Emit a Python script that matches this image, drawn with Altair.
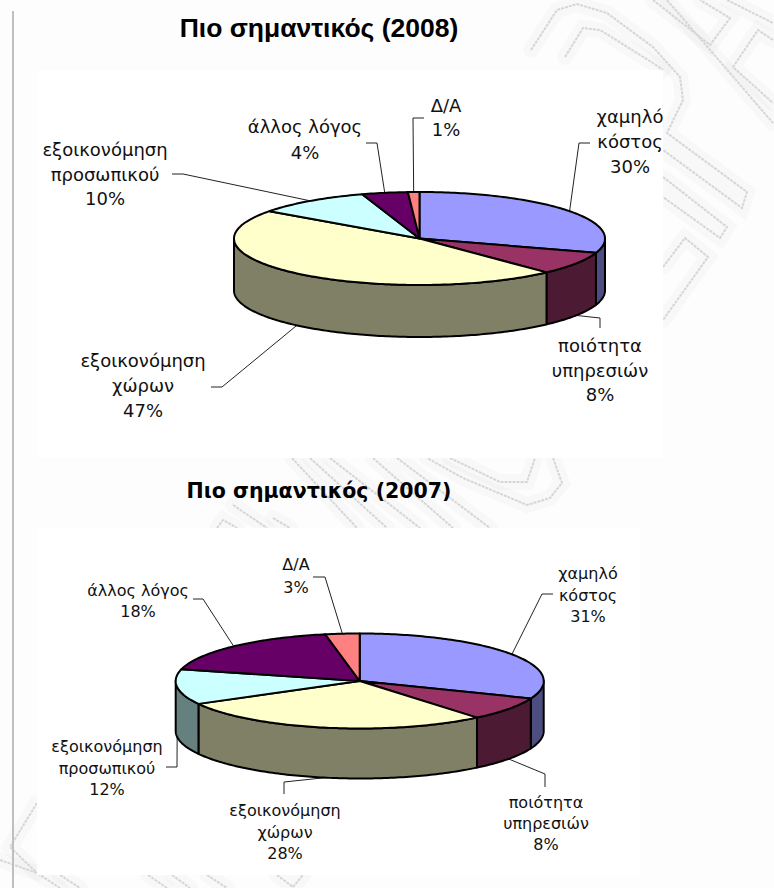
import math
import altair as alt
import pandas as pd

# Survey shares, clockwise from twelve o'clock
VALUES_2008 = [30, 8, 47, 10, 4, 1]
VALUES_2007 = [31, 8, 28, 12, 18, 3]
LABELS = [
    ["χαμηλό", "κόστος"],
    ["ποιότητα", "υπηρεσιών"],
    ["εξοικονόμηση", "χώρων"],
    ["εξοικονόμηση", "προσωπικού"],
    ["άλλος λόγος"],
    ["Δ/Α"],
]
TOP_COLORS = ["#9999FF", "#993366", "#FFFFCC", "#CCFFFF", "#660066", "#FF8080"]
WALL_COLORS = ["#4D4D80", "#4D1A33", "#808066", "#668080", "#330033", "#804040"]

# Disc geometry: centre, radii, wall depth
DISC_2008 = dict(cx=419.5, cy=238.5, rx=185.5, ry=46.5, depth=52)
DISC_2007 = dict(cx=359.7, cy=681.0, rx=184.0, ry=47.5, depth=50)

# Label placement per slice: centre x, y of each line, elbow and end of the leader
LAYOUT_2008 = [
    dict(x=630, ys=[118, 143, 168], elbow=(579, 143), end=(590, 143)),
    dict(x=600, ys=[347, 372, 396], elbow=(600, 318), end=(600, 328)),
    dict(x=143, ys=[362, 387, 412], elbow=(222, 387), end=(211, 387)),
    dict(x=105, ys=[151, 176, 200], elbow=(183, 174), end=(172, 174)),
    dict(x=305, ys=[128, 154], elbow=(377, 143), end=(366, 143)),
    dict(x=446, ys=[107, 131], elbow=(413, 118), end=(424, 118)),
]
LAYOUT_2007 = [
    dict(x=588, ys=[574, 596, 617], elbow=(542, 594), end=(553, 594)),
    dict(x=546, ys=[803, 824, 845], elbow=(545, 774), end=(545, 787)),
    dict(x=285, ys=[811, 833, 854], elbow=(284, 782), end=(284, 794)),
    dict(x=107, ys=[747, 769, 790], elbow=(177, 767), end=(166, 767)),
    dict(x=138, ys=[591, 612], elbow=(203, 599), end=(193, 599)),
    dict(x=296, ys=[565, 588], elbow=(325, 577), end=(313, 577)),
]

TITLE_2008 = dict(text="Πιο σημαντικός (2008)", x=319, y=29, font="Liberation Sans", size=26.5)
TITLE_2007 = dict(text="Πιο σημαντικός (2007)", x=319, y=492, font="DejaVu Sans", size=20.5)

# White panels behind the two pies
PANELS = [(37, 663, 70, 458), (37, 640, 528, 875)]

# Faint key-pattern ornament of the page background
ORNAMENT = [
    [(531, 50), (557, 10), (577, 4), (607, 13), (653, 47), (680, 77), (683, 100), (667, 133),
     (747, 192), (742, 208), (663, 150)],
    [(565, 57), (583, 28), (600, 30), (653, 63), (663, 70)],
    [(653, 0), (710, 45), (730, 18), (700, 0)],
    [(667, 0), (773, 123)],
    [(773, 40), (758, 30), (733, 67), (773, 103)],
    [(727, 0), (773, 23)],
    [(663, 177), (727, 227), (720, 238), (663, 197)],
    [(663, 267), (685, 238), (708, 257), (663, 320)],
    [(292, 458), (357, 528)],
    [(310, 458), (387, 528)],
    [(330, 458), (420, 528)],
    [(373, 458), (453, 528)],
    [(397, 458), (490, 528)],
    [(450, 458), (500, 482), (527, 482), (535, 458)],
    [(553, 458), (562, 483), (550, 498), (527, 505), (463, 478), (427, 458)],
    [(217, 528), (223, 520), (237, 528)],
    [(233, 505), (267, 528)],
    [(273, 518), (290, 528)],
    [(37, 803), (10, 847), (37, 873)],
    [(0, 860), (37, 873), (60, 888)],
    [(60, 875), (80, 888)],
    [(148, 875), (167, 888)],
    [(172, 875), (190, 888)],
    [(207, 875), (227, 888)],
    [(277, 875), (293, 887), (303, 875)],
]

X = alt.X("x:Q", scale=alt.Scale(domain=[0, 774], range=[0, 774]), axis=None)
Y = alt.Y("y:Q", scale=alt.Scale(domain=[0, 888], range=[0, 888]), axis=None)


def on_rim(disc, degrees, drop=0.0):
    a = math.radians(degrees)
    return (disc["cx"] + disc["rx"] * math.sin(a),
            disc["cy"] - disc["ry"] * math.cos(a) + drop)


def arc_angles(start, stop):
    n = max(2, int(abs(stop - start)) + 2)
    return [start + (stop - start) * i / (n - 1) for i in range(n)]


def pie_rows(values, disc, key):
    tops, walls, leaders, texts = [], [], [], []
    layout = LAYOUT_2008 if key == "a" else LAYOUT_2007
    run = 0.0
    for i, v in enumerate(values):
        start, stop = run * 3.6, (run + v) * 3.6
        mid = (start + stop) / 2
        run += v

        # top face: centre, then along the rim
        pts = [(disc["cx"], disc["cy"])] + [on_rim(disc, a) for a in arc_angles(start, stop)]
        for k, (px, py) in enumerate(pts):
            tops.append(dict(x=px, y=py, ord=k, id=f"{key}t{i}", color=TOP_COLORS[i]))

        # outer wall: only the part of the rim that faces the viewer
        lo, hi = max(start, 90.0), min(stop, 270.0)
        if hi > lo:
            angles = arc_angles(lo, hi)
            pts = [on_rim(disc, a) for a in angles] + \
                  [on_rim(disc, a, disc["depth"]) for a in reversed(angles)]
            for k, (px, py) in enumerate(pts):
                walls.append(dict(x=px, y=py, ord=k, id=f"{key}w{i}", color=WALL_COLORS[i]))

        # leader from the middle of the slice's rim to its label
        drop = disc["depth"] if 90 < mid < 270 else 0.0
        spec = layout[i]
        for k, (px, py) in enumerate([on_rim(disc, mid, drop), spec["elbow"], spec["end"]]):
            leaders.append(dict(x=px, y=py, ord=k, id=f"{key}l{i}"))

        lines = LABELS[i] + [f"{v}%"]
        for text, ly in zip(lines, spec["ys"]):
            texts.append(dict(x=spec["x"], y=ly, text=text, size=18 if key == "a" else 16))
    return tops, walls, leaders, texts


tops_a, walls_a, leaders_a, texts_a = pie_rows(VALUES_2008, DISC_2008, "a")
tops_b, walls_b, leaders_b, texts_b = pie_rows(VALUES_2007, DISC_2007, "b")

ornament_df = pd.DataFrame(
    [dict(x=px, y=py, ord=k, id=i) for i, line in enumerate(ORNAMENT) for k, (px, py) in enumerate(line)]
)
panel_df = pd.DataFrame([dict(x=a, x2=b, y=c, y2=d) for a, b, c, d in PANELS])


def polygons(rows):
    return alt.Chart(pd.DataFrame(rows)).mark_line(
        interpolate="linear-closed", stroke="black", strokeWidth=2, strokeJoin="round"
    ).encode(x=X, y=Y, order="ord:Q", detail="id:N", fill=alt.Fill("color:N", scale=None))


def title_mark(spec):
    return alt.Chart(pd.DataFrame([spec])).mark_text(
        font=spec["font"], fontSize=spec["size"], fontWeight="bold",
        baseline="middle", align="center", color="black"
    ).encode(x=X, y=Y, text="text:N")


haze = alt.Chart(ornament_df).mark_line(color="#000000", strokeWidth=16, opacity=0.02, strokeCap="round").encode(
    x=X, y=Y, order="ord:Q", detail="id:N")
ornament = alt.Chart(ornament_df).mark_line(color="#d6d6d6", strokeWidth=2, strokeDash=[3, 1]).encode(
    x=X, y=Y, order="ord:Q", detail="id:N")
panels = alt.Chart(panel_df).mark_rect(color="white").encode(x=X, x2="x2:Q", y=Y, y2="y2:Q")
margin_rule = alt.Chart(pd.DataFrame([dict(x=13, y=11, y2=888)])).mark_rule(
    color="#bfbfbf", strokeWidth=2).encode(x=X, y=Y, y2="y2:Q")
leaders = alt.Chart(pd.DataFrame(leaders_a + leaders_b)).mark_line(color="#222222", strokeWidth=1).encode(
    x=X, y=Y, order="ord:Q", detail="id:N")
labels = alt.Chart(pd.DataFrame(texts_a + texts_b)).mark_text(
    font="DejaVu Sans", baseline="middle", align="center", color="#111111"
).encode(x=X, y=Y, text="text:N", size=alt.Size("size:Q", scale=None))

chart = alt.layer(
    haze, ornament, panels, margin_rule,
    leaders,
    polygons(walls_a), polygons(tops_a),
    polygons(walls_b), polygons(tops_b),
    labels, title_mark(TITLE_2008), title_mark(TITLE_2007),
).properties(
    width=774, height=888, padding=0, background="#fdfdfd",
    autosize=alt.AutoSizeParams(type="none"),
).configure_view(stroke=None)

chart.save("out.html", embed_options={"renderer": "svg", "actions": False})
